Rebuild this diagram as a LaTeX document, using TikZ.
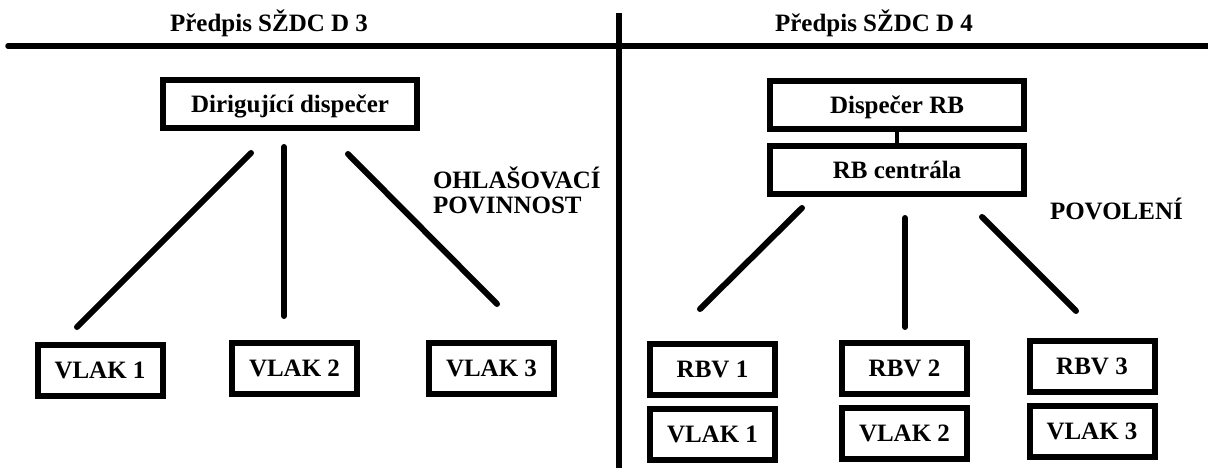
\documentclass[tikz,border=0pt]{standalone}
\usepackage{fontspec}
\setmainfont{Liberation Serif}
\begin{document}
\begin{tikzpicture}[x=1pt,y=-1pt,
  txt/.style={font=\bfseries\fontsize{25}{28}\selectfont, inner sep=0pt, outer sep=0pt},
  box/.style={txt, draw, line width=6pt, minimum width=125pt, minimum height=51pt,
              text height=16.5pt, text depth=0pt},
  bigbox/.style={box, minimum width=254pt, minimum height=48pt},
  conn/.style={line width=6pt, line cap=round},
  thinconn/.style={line width=3.5pt},
  rule/.style={line width=5.5pt},
  lbl/.style={txt, anchor=base west},
  head/.style={txt, anchor=base}
]
\useasboundingbox (0,0) rectangle (1208,468);

% frame lines
\coordinate (hl) at (8,46);
\coordinate (hr) at (1208,46);
\coordinate (vt) at (619,13);
\coordinate (vb) at (619,468);
\draw[rule, line cap=round] (hl) -- (hr);
\draw[rule] (vt) -- (vb);

% headers
\node[head] (h1) at (269,32) {Předpis SŽDC D 3};
\node[head] (h2) at (874,32) {Předpis SŽDC D 4};

% left part
\node[bigbox] (dir) at (290,104) {Dirigující dispečer};
\node[box] (d1) at (100,370.5) {VLAK 1};
\node[box] (d2) at (294.5,368.5) {VLAK 2};
\node[box] (d3) at (491.5,368.5) {VLAK 3};

\coordinate (a1) at (251,153); \coordinate (b1) at (77,327);
\coordinate (a2) at (284,147); \coordinate (b2) at (284,316);
\coordinate (a3) at (348,154); \coordinate (b3) at (497,304);
\draw[conn] (a1) -- (b1);
\draw[conn] (a2) -- (b2);
\draw[conn] (a3) -- (b3);

\node[lbl] (ohl) at (433,189) {OHLAŠOVACÍ};
\node[lbl] (pov) at (433,213) {POVINNOST};

% right part
\node[bigbox] (rbd) at (897,105) {Dispečer RB};
\node[bigbox] (rbc) at (897,170) {RB centrála};
\draw[thinconn] (rbd) -- (rbc);

\node[box] (r1) at (712.5,369.5) {RBV 1};
\node[box] (v1) at (712.5,434.5) {VLAK 1};
\node[box] (r2) at (904.5,368) {RBV 2};
\node[box] (v2) at (904.5,433) {VLAK 2};
\node[box] (r3) at (1092,366) {RBV 3};
\node[box] (v3) at (1092,431.5) {VLAK 3};

\coordinate (c1) at (802,208); \coordinate (e1) at (700,309);
\coordinate (c2) at (905,218); \coordinate (e2) at (905,327);
\coordinate (c3) at (982,217); \coordinate (e3) at (1076,311);
\draw[conn] (c1) -- (e1);
\draw[conn] (c2) -- (e2);
\draw[conn] (c3) -- (e3);

\node[lbl] (pvl) at (1050,219) {POVOLENÍ};
\end{tikzpicture}
\end{document}
